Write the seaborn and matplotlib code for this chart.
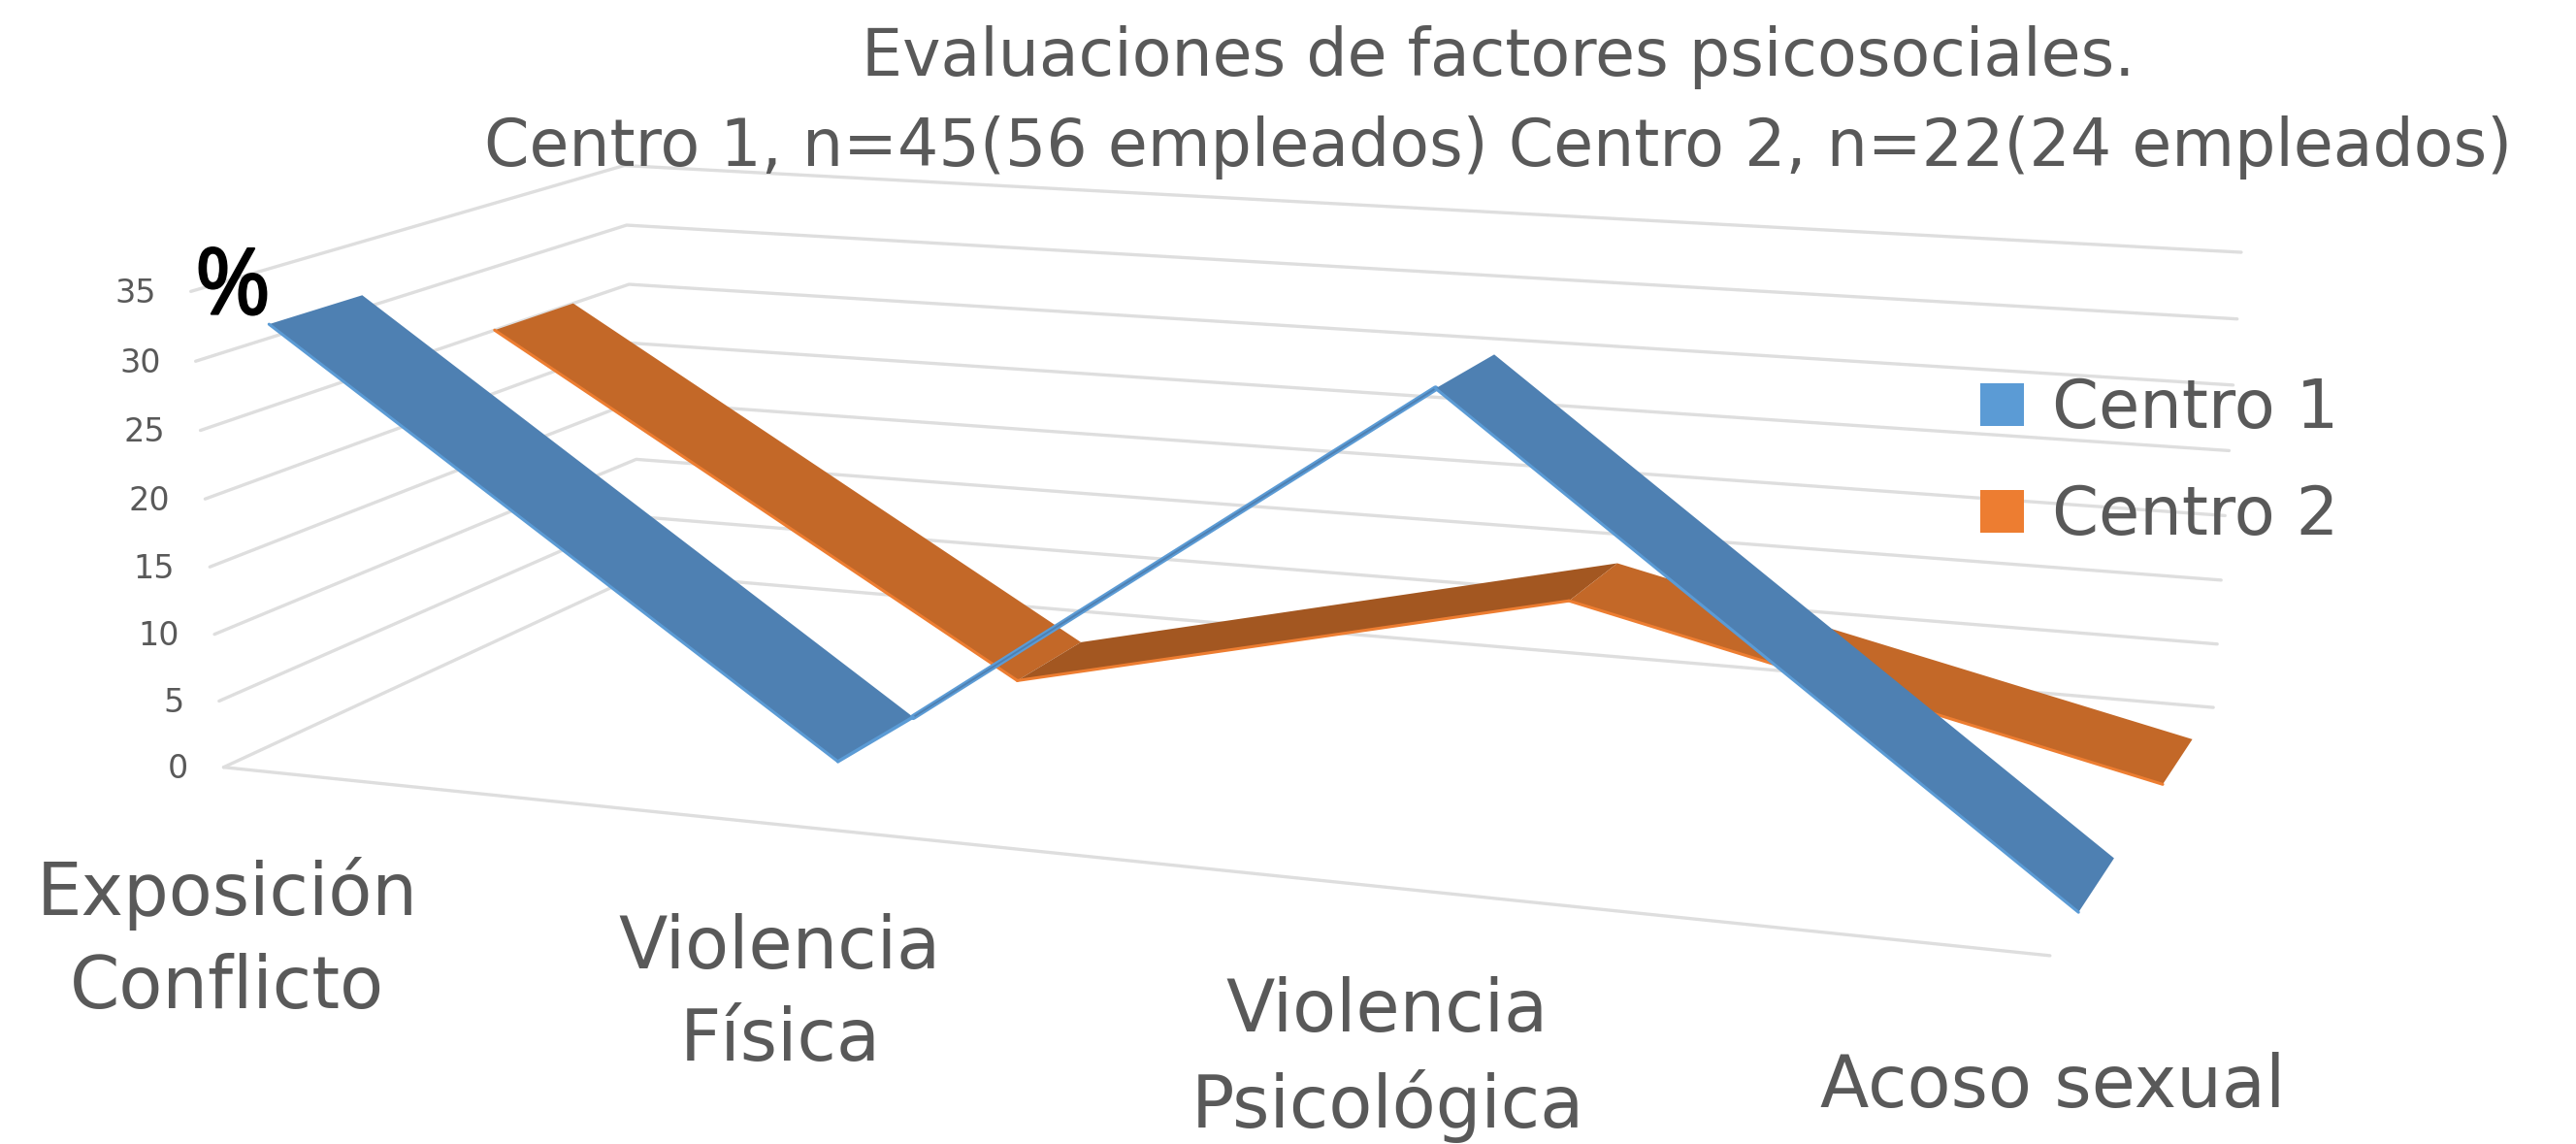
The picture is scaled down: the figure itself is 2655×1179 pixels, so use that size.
import matplotlib
matplotlib.use("Agg")
import matplotlib.patheffects as pe
import matplotlib.pyplot as plt
import numpy as np
import pandas as pd
import seaborn as sns
from matplotlib.patches import Patch

# Values
categories = ["Exposición\nConflicto", "Violencia\nFísica", "Violencia\nPsicológica", "Acoso sexual"]
centro_1 = [31, 2, 32, 0]
centro_2 = [25, 0, 10, 0]
y_ticks = [0, 5, 10, 15, 20, 25, 30, 35]
title_1 = "Evaluaciones de factores psicosociales."
title_2 = "Centro 1, n=45(56 empleados) Centro 2, n=22(24 empleados)"

sns.set_theme(style="white")
plt.rcParams["font.family"] = ["DejaVu Sans"]

GREY = "#595959"
GRID = "#DEDEDE"

# Excel 3D view: fit a camera from the corners of the plot box
# (u along categories, v depth, z value) -> picture pixels
box_world = [(0, 0, 0), (0, 0, 35), (0, 1, 0), (0, 1, 35), (1, 1, 0), (1, 1, 35), (1, 0, 0)]
box_pixels = [(230, 790), (197, 301), (661, 592), (643, 170), (2281, 729), (2310, 260), (2113, 985)]

rows, rhs = [], []
for (u, v, z), (px, py) in zip(box_world, box_pixels):
    rows.append([u, v, z, 1, 0, 0, 0, 0, -px * u, -px * v, -px * z])
    rows.append([0, 0, 0, 0, u, v, z, 1, -py * u, -py * v, -py * z])
    rhs += [px, py]
cam = np.linalg.lstsq(np.array(rows, dtype=float), np.array(rhs, dtype=float), rcond=None)[0]
cam = np.append(cam, 1).reshape(3, 4)


def project(u, v, z):
    x, y, w = cam @ np.array([u, v, z, 1.0])
    return x / w, y / w


fig = plt.figure(figsize=(26.55, 11.79), dpi=100)
ax = fig.add_axes([0, 0, 1, 1])
ax.set_xlim(0, 2655)
ax.set_ylim(1179, 0)
ax.axis("off")

# Gridlines on the side wall and the back wall, plus the front floor edge
grid_rows = []
for t in y_ticks:
    for u, v in [(0, 0), (0, 1), (1, 1)]:
        x, y = project(u, v, t)
        grid_rows.append({"x": x, "y": y, "line": t})
for u in [0, 1]:
    x, y = project(u, 0, 0)
    grid_rows.append({"x": x, "y": y, "line": -1})
sns.lineplot(
    data=pd.DataFrame(grid_rows),
    x="x",
    y="y",
    units="line",
    estimator=None,
    sort=False,
    color=GRID,
    linewidth=2.4,
    legend=False,
    ax=ax,
    zorder=1,
)
ax.set_xlabel("")
ax.set_ylabel("")


def draw_ribbon(values, v0, v1, top, dark, edge, rising_flat, zorder):
    n = len(values)
    for i in range(n - 1):
        u0, u1 = i / (n - 1), (i + 1) / (n - 1)
        a = project(u0, v0, values[i])
        b = project(u0, v1, values[i])
        c = project(u1, v1, values[i + 1])
        d = project(u1, v0, values[i + 1])
        rising = values[i + 1] > values[i]
        if rising and rising_flat:
            # seen edge-on, only a thin line is left
            ax.plot([b[0], d[0]], [b[1], d[1]], color=edge, lw=4.4, zorder=zorder, solid_capstyle="round")
            ax.plot([b[0], d[0]], [b[1], d[1]], color=top, lw=1.4, zorder=zorder)
            ax.plot([a[0], b[0]], [a[1], b[1]], color=edge, lw=2.5, zorder=zorder + 1)
            continue
        ax.fill(
            [a[0], b[0], c[0], d[0]],
            [a[1], b[1], c[1], d[1]],
            color=dark if rising else top,
            lw=0,
            zorder=zorder,
        )
        ax.plot([a[0], d[0]], [a[1], d[1]], color=edge, lw=2.2, zorder=zorder)


draw_ribbon(centro_2, 0.65, 0.85, "#C36828", "#A35721", "#ED7D31", False, 3)
draw_ribbon(centro_1, 0.15, 0.35, "#4E80B2", "#4E80B2", "#5B9BD5", True, 5)

# Value axis labels follow the front edge of the side wall
for t in y_ticks:
    x, y = project(0, 0, t)
    ax.text(x - 36, y + 2, str(t), color=GREY, fontsize=24, ha="right", va="center", zorder=6)

pct = ax.text(240, 299, "%", color="black", fontsize=68, family="Open Sans", ha="center", va="center", zorder=7)
pct.set_path_effects([pe.withStroke(linewidth=1.6, foreground="black")])

ax.text(1544, 59, title_1, color=GREY, fontsize=48, ha="center", va="center")
ax.text(1544, 152, title_2, color=GREY, fontsize=48, ha="center", va="center")

label_spots = [(234, 969), (804, 1025), (1430, 1092), (2116, 1121)]
for name, (x, y) in zip(categories, label_spots):
    ax.text(x, y, name, color=GREY, fontsize=53, ha="center", va="center", linespacing=1.4, multialignment="center")

handles = [Patch(color="#5B9BD5", lw=0), Patch(color="#ED7D31", lw=0)]
leg = ax.legend(
    handles,
    ["Centro 1", "Centro 2"],
    loc="upper left",
    bbox_to_anchor=(2041 / 2655, 1 - 388 / 1179),
    frameon=False,
    fontsize=49.5,
    handlelength=0.65,
    handleheight=0.62,
    handletextpad=0.42,
    labelspacing=0.63,
    labelcolor=GREY,
    borderpad=0,
    borderaxespad=0,
)
leg.set_zorder(8)

fig.savefig("out.png", dpi=100)
